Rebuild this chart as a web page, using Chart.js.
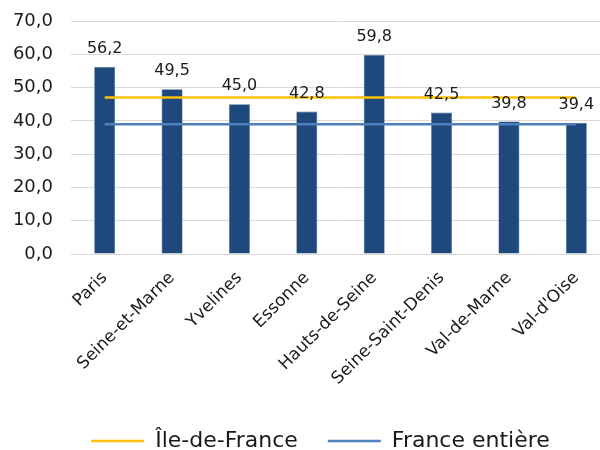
<!DOCTYPE html>
<html>
<head>
<meta charset="utf-8">
<script src="https://cdn.jsdelivr.net/npm/chart.js@4/dist/chart.umd.min.js"></script>
<style>
    html, body { margin: 0; padding: 0; background: #fff; width: 600px; height: 450px; overflow: hidden; }
    /* plot area runs a little past the right edge in the original */
    #wrap { width: 610px; height: 462px; }
</style>
</head>
<body>
<div id="wrap"><canvas id="chart"></canvas></div>
<script>
const departements = ['Paris', 'Seine-et-Marne', 'Yvelines', 'Essonne', 'Hauts-de-Seine', 'Seine-Saint-Denis', 'Val-de-Marne', "Val-d'Oise"];
const valeurs = [56.2, 49.5, 45.0, 42.8, 59.8, 42.5, 39.8, 39.4];
const moyenneIDF = 47.0;
const moyenneFrance = 39.0;

const FONT = "'DejaVu Sans', sans-serif";
const fmt = v => v.toFixed(1).replace('.', ',');

// Value labels above the bars
const barLabels = {
    id: 'barLabels',
    afterDatasetsDraw(chart) {
        const ctx = chart.ctx;
        const meta = chart.getDatasetMeta(2);
        ctx.save();
        ctx.font = '16px ' + FONT;
        ctx.fillStyle = '#1a1a1a';
        ctx.textAlign = 'center';
        ctx.textBaseline = 'alphabetic';
        meta.data.forEach((bar, i) => {
            ctx.fillText(fmt(valeurs[i]), bar.x, bar.y - 14);
        });
        ctx.restore();
    }
};

// legend sits a bit right of centre in the original
const legendShift = {
    id: 'legendShift',
    afterLayout(chart) {
        chart.legend.left += 10;
        chart.legend.right += 10;
    }
};

new Chart(document.getElementById('chart'), {
    type: 'bar',
    data: {
        labels: departements,
        datasets: [
            {
                type: 'line',
                label: 'Île-de-France',
                data: departements.map(() => moyenneIDF),
                borderColor: '#FFC000',
                backgroundColor: '#FFC000',
                borderWidth: 2.5,
                pointRadius: 0,
                order: 1
            },
            {
                type: 'line',
                label: 'France entière',
                data: departements.map(() => moyenneFrance),
                borderColor: '#4F81BD',
                backgroundColor: '#4F81BD',
                borderWidth: 2.5,
                pointRadius: 0,
                order: 1
            },
            {
                label: 'valeurs',
                data: valeurs,
                backgroundColor: '#1F497D',
                borderColor: '#4a6d99',
                borderWidth: 0.6,
                barPercentage: 0.312,
                categoryPercentage: 1,
                order: 2
            }
        ]
    },
    options: {
        responsive: true,
        maintainAspectRatio: false,
        animation: false,
        layout: { padding: { left: 11, right: 0, top: 21, bottom: 0 } },
        scales: {
            x: {
                grid: { display: false },
                border: { display: false },
                afterFit: s => { s.height = 146; },
                ticks: {
                    color: '#1a1a1a',
                    font: { family: FONT, size: 17 },
                    minRotation: 45,
                    maxRotation: 45,
                    padding: 6
                }
            },
            y: {
                min: 0,
                max: 70,
                grid: { color: '#d9d9d9', lineWidth: 1, drawTicks: false },
                border: { display: false },
                afterFit: s => { s.width = 60; s.paddingTop = 0; s.paddingBottom = 0; },
                ticks: {
                    stepSize: 10,
                    color: '#1a1a1a',
                    font: { family: FONT, size: 18 },
                    padding: 18,
                    callback: v => fmt(v)
                }
            }
        },
        plugins: {
            tooltip: { enabled: false },
            legend: {
                position: 'bottom',
                labels: {
                    usePointStyle: true,
                    pointStyle: 'line',
                    pointStyleWidth: 53,
                    color: '#1a1a1a',
                    font: { family: FONT, size: 22 },
                    padding: 30,
                    filter: item => item.text !== 'valeurs'
                }
            }
        }
    },
    plugins: [barLabels, legendShift]
});
</script>
</body>
</html>
